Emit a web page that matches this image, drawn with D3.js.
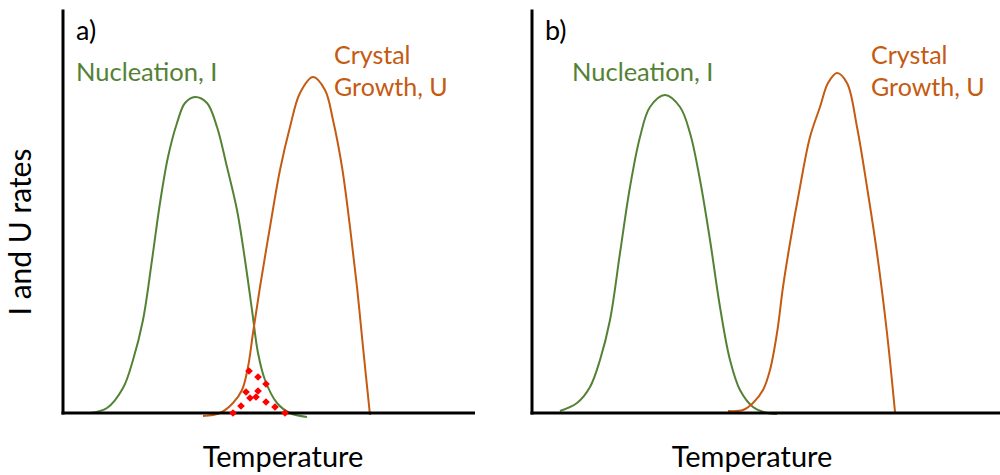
<!DOCTYPE html>
<html>
<head>
<meta charset="utf-8">
<script src="https://cdn.jsdelivr.net/npm/d3@7"></script>
<style>
  html, body { margin: 0; padding: 0; background: #fff; }
  svg { display: block; }
  text { font-family: Lato, "Open Sans", sans-serif; }
</style>
</head>
<body>
<svg id="chart" width="1000" height="475"></svg>
<script>
// Temperature (arbitrary units) and rate (arbitrary units) for each curve.
// Panel a: nucleation and growth ranges overlap.
const nucleationA = [
  [6.75, 0], [11, 1.25], [15, 6.25], [17.5, 13.25], [20, 23.25], [22.25, 38.25],
  [24.25, 52.5], [26.25, 64], [28.5, 72.5], [30.5, 77.5], [33, 79], [36, 77.5],
  [38.5, 71.5], [41, 61.5], [43.5, 50.75], [45.5, 38.25], [47.25, 25.75],
  [48.75, 15], [50.5, 8.25], [53.5, 2.5], [56.75, 0], [61, -1]
];
const growthA = [
  [35, -0.75], [39.25, 0], [42.5, 2.5], [44.75, 5.75], [46.25, 11.5], [47.5, 20],
  [49.25, 31.5], [51.75, 46.5], [54.25, 60.75], [56.75, 71.5], [59.25, 80],
  [62.5, 84], [65.5, 80.75], [67.5, 73.25], [69.75, 61.5], [71.75, 46.5],
  [73.5, 31.5], [75, 16.5], [76.75, -0.5]
];
// Dotted fill marking the overlap region in panel a
const overlapDots = [
  [46.5, 10.5], [48.75, 9], [50.75, 7.25], [45.75, 5.25], [48.75, 5.5],
  [46.75, 3.75], [48.25, 4], [50.75, 2.75], [44.5, 1.75], [53, 1.5],
  [42.5, 0], [55.5, 0]
];
// Panel b: curves barely overlap.
const nucleationB = [
  [7, 0.5], [11.25, 2.5], [14.5, 6.5], [17, 13.25], [19.5, 23.25], [22, 40],
  [24.5, 56.5], [27, 69], [29.5, 76.5], [33.25, 79.5], [37, 76.5], [39.5, 70],
  [42, 58.25], [44.5, 43.25], [47, 26.5], [49.5, 13.25], [52, 5.75],
  [55.25, 1.5], [58.75, 0], [61.25, -0.25]
];
const growthB = [
  [49, 0.5], [52.75, 0.75], [55.25, 2.5], [57.75, 5.75], [59.5, 10.75],
  [61.25, 20], [62.75, 31.5], [64.5, 42.5], [67, 56.5], [69.5, 69], [72, 76.5],
  [74, 82.5], [76.25, 85], [78.75, 82.5], [81.25, 71.5], [83.75, 56.5],
  [86.25, 40], [88.75, 20], [90.75, 0.25]
];

const panelLabels = ["a)", "b)"];
const nucleationLabel = "Nucleation, I";
const growthLabel = ["Crystal", "Growth, U"];
const xTitle = "Temperature";
const yTitle = "I and U rates";

const GREEN = "#548235";
const ORANGE = "#c55a11";

const svg = d3.select("#chart");

const panels = [
  { label: panelLabels[0], x0: 63, xMax: 103, nuc: nucleationA, gro: growthA, dots: overlapDots,
    nucX: 76, groX: 334, titleX: 283 },
  { label: panelLabels[1], x0: 532, xMax: 118, nuc: nucleationB, gro: growthB, dots: [],
    nucX: 572, groX: 871, titleX: 752 }
];

const y = d3.scaleLinear().domain([0, 100]).range([413, 13]);

panels.forEach(p => {
  const x = d3.scaleLinear().domain([0, 100]).range([p.x0, p.x0 + 400]);
  const g = svg.append("g");

  const line = d3.line()
    .x(d => x(d[0]))
    .y(d => y(d[1]))
    .curve(d3.curveCatmullRom.alpha(0.5));

  g.append("path").datum(p.nuc)
    .attr("d", line).attr("fill", "none")
    .attr("stroke", GREEN).attr("stroke-width", 2);

  g.append("path").datum(p.gro)
    .attr("d", line).attr("fill", "none")
    .attr("stroke", ORANGE).attr("stroke-width", 2);

  // axes: plain lines without ticks
  g.append("line")
    .attr("x1", x(0)).attr("x2", x(0))
    .attr("y1", 9.5).attr("y2", y(0) + 1.5)
    .attr("stroke", "#000").attr("stroke-width", 3);
  g.append("line")
    .attr("x1", x(0) - 1.5).attr("x2", x(p.xMax))
    .attr("y1", y(0)).attr("y2", y(0))
    .attr("stroke", "#000").attr("stroke-width", 3);

  const diamond = d3.symbol().type(d3.symbolSquare).size(30);
  g.selectAll("path.dot").data(p.dots).join("path")
    .attr("class", "dot")
    .attr("d", diamond)
    .attr("transform", d => `translate(${x(d[0])},${y(d[1])}) rotate(45)`)
    .attr("fill", "#ff0000");

  g.append("text")
    .attr("x", p.x0 + 13).attr("y", 40)
    .attr("font-size", 27).attr("fill", "#000")
    .text(p.label);

  g.append("text")
    .attr("x", p.nucX).attr("y", 81)
    .attr("font-size", 25.5).attr("fill", GREEN)
    .text(nucleationLabel);

  g.append("text")
    .attr("x", p.groX).attr("y", 64)
    .attr("font-size", 25).attr("fill", ORANGE)
    .text(growthLabel[0]);
  g.append("text")
    .attr("x", p.groX).attr("y", 96)
    .attr("font-size", 25).attr("fill", ORANGE)
    .text(growthLabel[1]);

  g.append("text")
    .attr("x", p.titleX).attr("y", 467)
    .attr("text-anchor", "middle")
    .attr("font-size", 29).attr("fill", "#000")
    .text(xTitle);
});

svg.append("text")
  .attr("transform", "translate(31,232) rotate(-90)")
  .attr("text-anchor", "middle")
  .attr("font-size", 30).attr("fill", "#000")
  .text(yTitle);
</script>
</body>
</html>
